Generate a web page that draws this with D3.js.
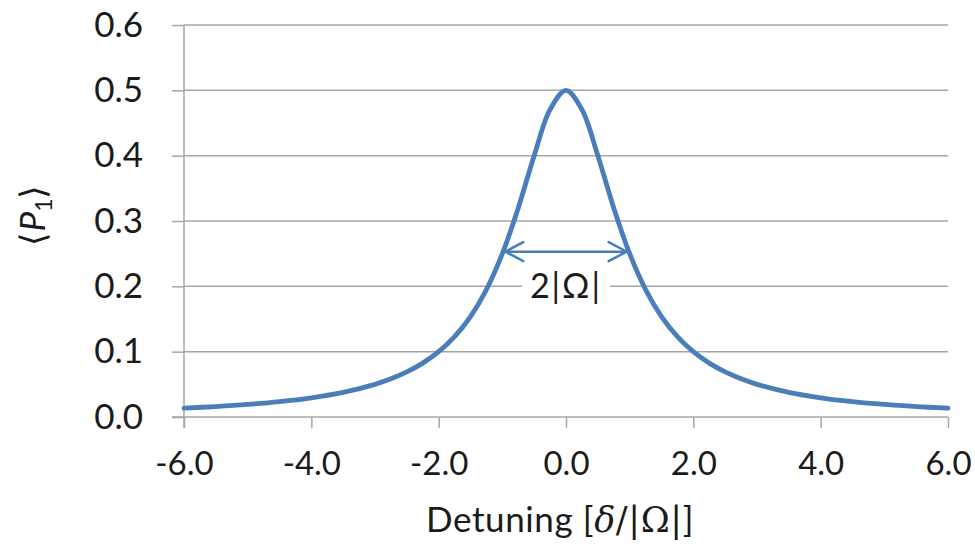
<!DOCTYPE html>
<html>
<head>
<meta charset="utf-8">
<script src="https://cdn.jsdelivr.net/npm/d3@7"></script>
<style>
  html, body { margin: 0; padding: 0; background: #fff; }
  svg { display: block; }
  text { font-family: Lato, "Open Sans", sans-serif; fill: #1a1a1a; }
</style>
</head>
<body>
<svg id="chart" width="975" height="546"></svg>
<script>
// Detuning values (in units of |Ω|) and the mean population ⟨P1⟩ at each
const detuning = [-6, -5.5, -5, -4.5, -4, -3.5, -3, -2.75, -2.5, -2.25, -2, -1.75, -1.5, -1.25, -1,
  -0.75, -0.5, -0.25, 0, 0.25, 0.5, 0.75, 1, 1.25, 1.5, 1.75, 2, 2.25, 2.5, 2.75, 3, 3.5, 4, 4.5, 5, 5.5, 6];
const population = [0.0135, 0.016, 0.0192, 0.0235, 0.0294, 0.0377, 0.05, 0.0584, 0.069, 0.0825, 0.1, 0.1231, 0.1538, 0.1951, 0.25,
  0.32, 0.4, 0.4706, 0.5, 0.4706, 0.4, 0.32, 0.25, 0.1951, 0.1538, 0.1231, 0.1, 0.0825, 0.069, 0.0584, 0.05, 0.0377, 0.0294, 0.0235, 0.0192, 0.016, 0.0135];

const xTicks = [-6, -4, -2, 0, 2, 4, 6];
const yTicks = [0, 0.1, 0.2, 0.3, 0.4, 0.5, 0.6];

// Full width at half maximum marker
const fwhmStart = -1, fwhmEnd = 1, fwhmLevel = 0.25;
const fwhmLabel = "2|Ω|";

const svg = d3.select("#chart");
const x = d3.scaleLinear().domain([-6, 6]).range([184, 948]);
const y = d3.scaleLinear().domain([0, 0.6]).range([417, 25]);

const grey = "#a6a6a6";
const serif = "'DejaVu Serif', 'Liberation Serif', serif";
// one decimal, plain hyphen for negatives
const fmt = d => d3.format(".1f")(d).replace("−", "-");

// Horizontal gridlines
svg.append("g")
  .selectAll("line")
  .data(yTicks.filter(d => d > 0))
  .join("line")
  .attr("x1", x(-6)).attr("x2", x(6))
  .attr("y1", d => y(d)).attr("y2", d => y(d))
  .attr("stroke", grey).attr("stroke-width", 1.5);

// Y axis
const yAxis = svg.append("g")
  .attr("transform", `translate(${x(-6)},0)`)
  .call(d3.axisLeft(y).tickValues(yTicks).tickFormat(fmt).tickSize(12).tickPadding(29));
yAxis.select(".domain").attr("stroke", grey).attr("stroke-width", 1.5).attr("d", `M0,${y(0) + 11}V${y(0.6)}`);
yAxis.selectAll(".tick line").attr("stroke", grey).attr("stroke-width", 1.5);
yAxis.selectAll(".tick text").attr("font-size", 35).attr("fill", "#1a1a1a")
  .attr("font-family", "Lato, 'Open Sans', sans-serif");

// X axis
const xAxis = svg.append("g")
  .attr("transform", `translate(0,${y(0)})`)
  .call(d3.axisBottom(x).tickValues(xTicks).tickFormat(fmt).tickSize(11).tickPadding(24));
xAxis.select(".domain").attr("stroke", grey).attr("stroke-width", 1.5).attr("d", `M${x(-6) - 12},0H${x(6)}`);
xAxis.selectAll(".tick line").attr("stroke", grey).attr("stroke-width", 1.5);
xAxis.selectAll(".tick text").attr("font-size", 33).attr("fill", "#1a1a1a")
  .attr("font-family", "Lato, 'Open Sans', sans-serif");

// Population curve
const pts = detuning.map((d, i) => [d, population[i]]);
svg.append("path")
  .datum(pts)
  .attr("fill", "none")
  .attr("stroke", "#4a7ebb")
  .attr("stroke-width", 4.8)
  .attr("stroke-linejoin", "round")
  .attr("stroke-linecap", "round")
  .attr("d", d3.line().x(d => x(d[0])).y(d => y(d[1])).curve(d3.curveCatmullRom.alpha(0.5)));

// FWHM double arrow
const ay = y(fwhmLevel) - 2;
const ax1 = x(fwhmStart) + 3, ax2 = x(fwhmEnd) - 3;
const arrow = svg.append("g").attr("stroke", "#4a7ebb").attr("stroke-width", 2.5).attr("fill", "none")
  .attr("stroke-linecap", "round");
arrow.append("line").attr("x1", ax1).attr("x2", ax2).attr("y1", ay).attr("y2", ay);
arrow.append("path").attr("d", `M${ax1 + 18},${ay - 9.5}L${ax1},${ay}L${ax1 + 18},${ay + 9.5}`);
arrow.append("path").attr("d", `M${ax2 - 18},${ay - 9.5}L${ax2},${ay}L${ax2 - 18},${ay + 9.5}`);

// Label with a white backing so the gridline breaks behind it
const lx = x((fwhmStart + fwhmEnd) / 2);
const lbl = svg.append("g");
lbl.append("rect").attr("x", lx - 44).attr("y", y(0.2) - 19).attr("width", 88).attr("height", 38).attr("fill", "#fff");
lbl.append("text")
  .attr("x", lx).attr("y", y(0.2) + 12)
  .attr("text-anchor", "middle")
  .attr("font-size", 34)
  .attr("letter-spacing", 2)
  .attr("font-family", serif)
  .text(fwhmLabel);

// Y axis title ⟨P1⟩
svg.append("text")
  .attr("transform", `translate(45,215) rotate(-90)`)
  .attr("text-anchor", "middle")
  .attr("font-size", 35)
  .attr("font-family", serif)
  .call(t => {
    t.append("tspan").text("⟨");
    t.append("tspan").attr("font-style", "italic").text("P");
    t.append("tspan").attr("font-size", 23).attr("dy", 7).text("1");
    t.append("tspan").attr("dy", -7).text("⟩");
  });

// X axis title
svg.append("text")
  .attr("x", 560).attr("y", 532)
  .attr("text-anchor", "middle")
  .attr("font-size", 35)
  .attr("letter-spacing", 0.6)
  .call(t => {
    t.append("tspan").text("Detuning [");
    t.append("tspan").attr("font-family", serif).attr("font-style", "italic").text("δ");
    t.append("tspan").attr("font-family", serif).text("/|Ω|");
    t.append("tspan").text("]");
  });
</script>
</body>
</html>
